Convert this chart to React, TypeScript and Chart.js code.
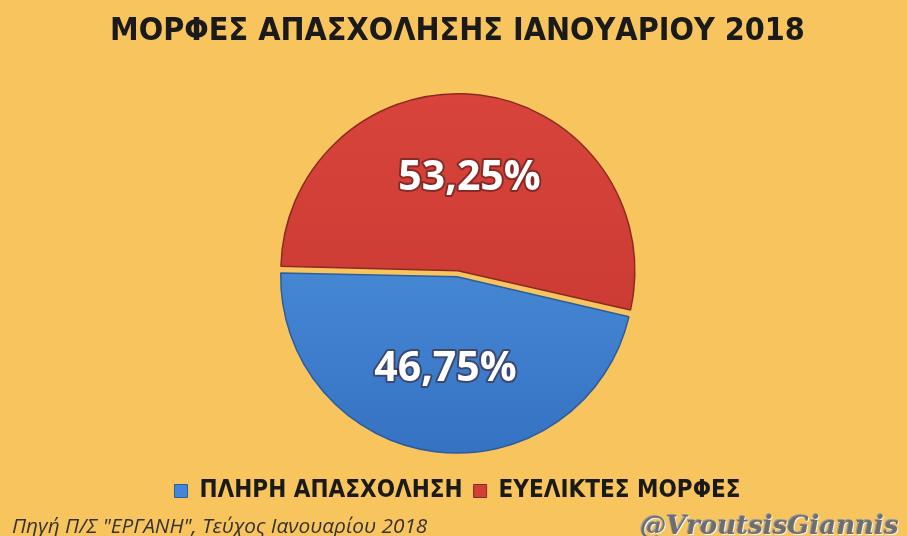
import React, { useEffect, useRef } from "react";
import { Chart, registerables } from "chart.js";

Chart.register(...registerables);

const TITLE = "ΜΟΡΦΕΣ ΑΠΑΣΧΟΛΗΣΗΣ ΙΑΝΟΥΑΡΙΟΥ 2018";
const categories = ["ΠΛΗΡΗ ΑΠΑΣΧΟΛΗΣΗ", "ΕΥΕΛΙΚΤΕΣ ΜΟΡΦΕΣ"];
const values = [46.75, 53.25];
const valueLabels = ["46,75%", "53,25%"];
const SOURCE = "Πηγή Π/Σ \"ΕΡΓΑΝΗ\", Τεύχος Ιανουαρίου 2018";
const HANDLE = "@VroutsisGiannis";

const BG = "#F8C45E";
const baseColors = ["#4287D6", "#D33F37"];
const lightColors = ["#559BE4", "#D8443C"];
const darkColors = ["#3572C2", "#C4362F"];
const edgeColors = ["#2C5D9C", "#8A2A22"];
const OFFSET = 12;

const labelPlugin = {
  id: "sliceLabels",
  afterDatasetsDraw(chart: any) {
    const ctx = chart.ctx;
    const meta = chart.getDatasetMeta(0);
    ctx.save();
    ctx.font = "bold 41px 'Open Sans', sans-serif";
    ctx.textAlign = "center";
    ctx.textBaseline = "middle";
    meta.data.forEach((arc: any, i: number) => {
      const p = arc.getProps(["x", "y", "startAngle", "endAngle", "outerRadius"], true);
      const mid = (p.startAngle + p.endAngle) / 2;
      const r = p.outerRadius * 0.52 + OFFSET / 2;
      const x = p.x + Math.cos(mid) * r;
      const y = p.y + Math.sin(mid) * r;
      ctx.lineJoin = "round";
      ctx.lineWidth = 4;
      ctx.strokeStyle = "rgba(60,20,20,0.5)";
      ctx.strokeText(valueLabels[i], x, y);
      ctx.fillStyle = "#FFFFFF";
      ctx.fillText(valueLabels[i], x, y);
    });
    ctx.restore();
  },
};

function sliceFill(c: any) {
  const i = c.dataIndex ?? 0;
  const chart = c.chart;
  const area = chart.chartArea;
  if (!area) return baseColors[i];
  const cy = (area.top + area.bottom) / 2;
  const g = chart.ctx.createLinearGradient(0, cy - 180, 0, cy + 180);
  g.addColorStop(0, lightColors[i]);
  g.addColorStop(1, darkColors[i]);
  return g;
}

export default function App() {
  const ref = useRef<HTMLCanvasElement | null>(null);
  useEffect(() => {
    if (!ref.current) return;
    const chart = new Chart(ref.current, {
      type: "pie",
      data: {
        labels: categories,
        datasets: [
          {
            data: values,
            backgroundColor: sliceFill,
            borderColor: edgeColors,
            borderWidth: 1.5,
            offset: OFFSET,
            radius: 174,
          } as any,
        ],
      },
      options: {
        responsive: false,
        animation: false,
        rotation: 103,
        layout: { padding: { left: 8, right: 0, top: 0, bottom: 23 } },
        plugins: {
          tooltip: { enabled: false },
          title: {
            display: true,
            text: TITLE,
            color: "#1A1A1A",
            font: { family: "'DejaVu Sans Condensed', sans-serif", size: 32, weight: "bold" },
            padding: { top: 12, bottom: 29 },
          },
          legend: {
            position: "bottom",
            labels: {
              color: "#1A1A1A",
              boxWidth: 13,
              boxHeight: 13,
              padding: 11,
              font: { family: "'DejaVu Sans Condensed', sans-serif", size: 24, weight: "bold" },
              generateLabels: () =>
                categories.map((t, i) => ({
                  text: t,
                  fillStyle: baseColors[i],
                  strokeStyle: edgeColors[i],
                  lineWidth: 1,
                  fontColor: "#1A1A1A",
                  hidden: false,
                  index: i,
                })),
            },
          },
        },
      },
      plugins: [labelPlugin],
    });
    return () => chart.destroy();
  }, []);

  return (
    <div style={{ position: "absolute", left: 0, top: 0, width: 907, height: 536, background: BG, overflow: "hidden" }}>
      <canvas ref={ref} width={907} height={536} style={{ display: "block" }} />
      <div
        style={{
          position: "absolute",
          left: 12,
          top: 513,
          fontFamily: "'Open Sans', 'Noto Sans', sans-serif",
          fontStyle: "italic",
          fontSize: 20.8,
          color: "#333333",
          whiteSpace: "nowrap",
          lineHeight: "24px",
        }}
      >
        {SOURCE}
      </div>
      <div
        style={{
          position: "absolute",
          left: 640,
          top: 510,
          fontFamily: "'DejaVu Serif', serif",
          fontStyle: "italic",
          fontWeight: "bold",
          fontSize: 26,
          color: "#6E6E6E",
          whiteSpace: "nowrap",
          lineHeight: "30px",
          textShadow: "1px 1px 0 #F2F2F2, -1px -1px 0 #9a9a9a",
        }}
      >
        {HANDLE}
      </div>
    </div>
  );
}
